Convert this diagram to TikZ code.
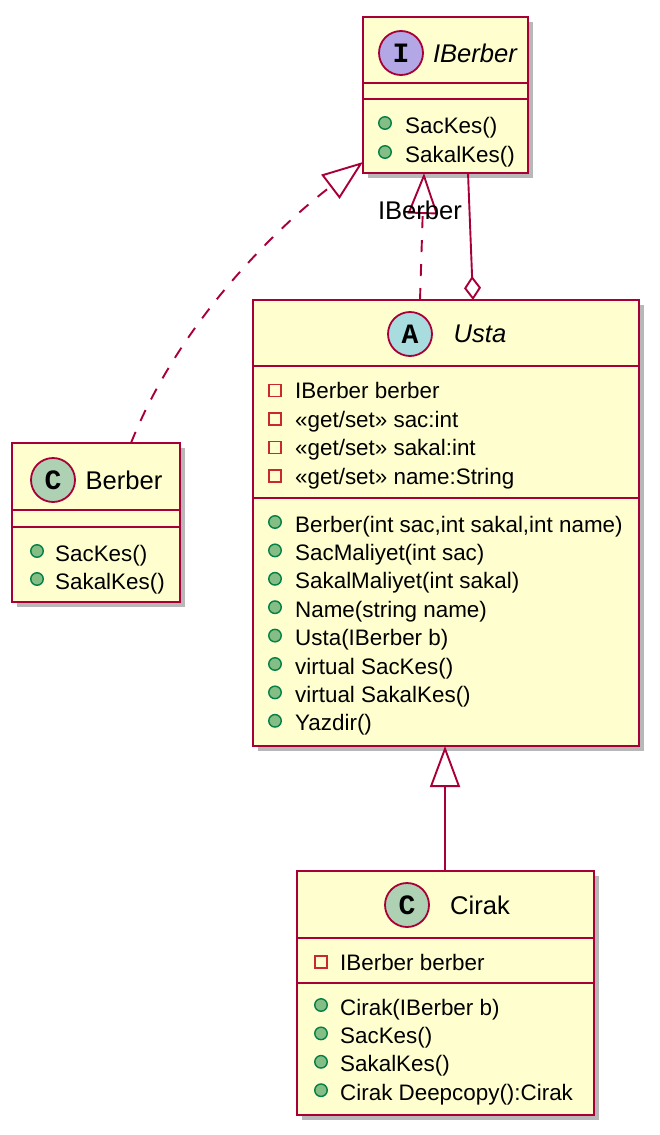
\documentclass[tikz,border=0pt]{standalone}
\usepackage{fontspec}
\setmainfont{Liberation Sans}
\newfontfamily\myMonoFam{Liberation Mono}
\usetikzlibrary{arrows.meta,shadows,calc}
\definecolor{classbg}{HTML}{FEFECE}
\definecolor{umlborder}{HTML}{A80036}
\definecolor{ifill}{HTML}{B4A7E5}
\definecolor{afill}{HTML}{A9DCDF}
\definecolor{cfill}{HTML}{ADD1B2}
\definecolor{pubfill}{HTML}{84BE84}
\definecolor{pubdraw}{HTML}{038048}
\definecolor{privdraw}{HTML}{C82930}
\newcommand\myMemFont{\fontsize{22.4}{27}\selectfont}
\newcommand\myTitleFont{\fontsize{25.6}{30}\selectfont}
\newcommand\myCircFont{\myMonoFam\bfseries\fontsize{28}{30}\selectfont}
\begin{document}
\begin{tikzpicture}[x=1pt,y=-1pt,
  umlbox/.style={rectangle, draw=umlborder, fill=classbg, line width=2.8pt, inner sep=0pt, outer sep=0pt, anchor=north west,
    drop shadow={shadow xshift=5pt, shadow yshift=-5pt, fill=black, opacity=0.28}},
  sepline/.style={draw=umlborder, line width=2.8pt},
  letter/.style={circle, draw=umlborder, line width=1.8pt, minimum size=44pt, inner sep=0pt, font=\myCircFont},
  mem/.style={anchor=base west, inner sep=0pt, font=\myMemFont},
  ttl/.style={inner sep=0pt, font=\myTitleFont},
  pubmark/.style={circle, fill=pubfill, draw=pubdraw, line width=1.4pt, minimum size=12.5pt, inner sep=0pt},
  privmark/.style={rectangle, draw=privdraw, line width=1.4pt, minimum size=12pt, inner sep=0pt},
  conn/.style={draw=umlborder, line width=1.9pt},
  dashconn/.style={conn, dash pattern=on 12pt off 12pt},
  tri/.style={-{Triangle[length=41pt, width=30pt, fill=white, line width=1.9pt]}},
  dia/.style={-{Diamond[length=24pt, width=17pt, fill=white, line width=1.9pt]}}
]
\fill[white] (0,0) rectangle (660,1135);
\useasboundingbox (0,0) rectangle (660,1135);

% ---------- IBerber ----------
\node[umlbox, minimum width=165pt, minimum height=156pt] (iberber) at (363,17) {};
\draw[sepline] (363,83) -- (528,83);
\draw[sepline] (363,99) -- (528,99);
\node[letter, fill=ifill] (iberberc) at (401,53) {I};
\node[ttl, font=\myTitleFont\itshape] (iberbert) at (475,53) {IBerber};
\node[pubmark] (ib1m) at (385,123) {};
\node[mem] (ib1) at (405,133) {SacKes()};
\node[pubmark] (ib2m) at (385,152) {};
\node[mem] (ib2) at (405,162) {SakalKes()};

% ---------- Berber ----------
\node[umlbox, minimum width=168pt, minimum height=159pt] (berber) at (12,443) {};
\draw[sepline] (12,510) -- (180,510);
\draw[sepline] (12,527) -- (180,527);
\node[letter, fill=cfill] (berberc) at (53,480) {C};
\node[ttl] (berbert) at (124,480) {Berber};
\node[pubmark] (b1m) at (37,551) {};
\node[mem] (b1) at (55,561) {SacKes()};
\node[pubmark] (b2m) at (37,579) {};
\node[mem] (b2) at (55,589) {SakalKes()};

% ---------- Usta ----------
\node[umlbox, minimum width=386pt, minimum height=446pt] (usta) at (253,300) {};
\draw[sepline] (253,366) -- (639,366);
\draw[sepline] (253,498) -- (639,498);
\node[letter, fill=afill] (ustac) at (410,334) {A};
\node[ttl, font=\myTitleFont\itshape] (ustat) at (480,334) {Usta};
\node[privmark] (ua1m) at (275,390.5) {};
\node[mem] (ua1) at (295,398.5) {IBerber berber};
\node[privmark] (ua2m) at (275,419) {};
\node[mem] (ua2) at (295,427) {«get/set» sac:int};
\node[privmark] (ua3m) at (275,447.5) {};
\node[mem] (ua3) at (295,455.5) {«get/set» sakal:int};
\node[privmark] (ua4m) at (275,476) {};
\node[mem] (ua4) at (295,484) {«get/set» name:String};
\node[pubmark] (um1m) at (275,522) {};
\node[mem] (um1) at (295,532) {Berber(int sac,int sakal,int name)};
\node[pubmark] (um2m) at (275,550.4) {};
\node[mem] (um2) at (295,560.4) {SacMaliyet(int sac)};
\node[pubmark] (um3m) at (275,578.8) {};
\node[mem] (um3) at (295,588.8) {SakalMaliyet(int sakal)};
\node[pubmark] (um4m) at (275,607.2) {};
\node[mem] (um4) at (295,617.2) {Name(string name)};
\node[pubmark] (um5m) at (275,635.6) {};
\node[mem] (um5) at (295,645.6) {Usta(IBerber b)};
\node[pubmark] (um6m) at (275,664) {};
\node[mem] (um6) at (295,674) {virtual SacKes()};
\node[pubmark] (um7m) at (275,692.4) {};
\node[mem] (um7) at (295,702.4) {virtual SakalKes()};
\node[pubmark] (um8m) at (275,720.8) {};
\node[mem] (um8) at (295,730.8) {Yazdir()};

% ---------- Cirak ----------
\node[umlbox, minimum width=297pt, minimum height=244pt] (cirak) at (297,871) {};
\draw[sepline] (297,938) -- (594,938);
\draw[sepline] (297,983) -- (594,983);
\node[letter, fill=cfill] (cirakc) at (407,905) {C};
\node[ttl] (cirakt) at (480,905) {Cirak};
\node[privmark] (ca1m) at (321,962) {};
\node[mem] (ca1) at (340,970) {IBerber berber};
\node[pubmark] (cm1m) at (321,1005) {};
\node[mem] (cm1) at (340,1015) {Cirak(IBerber b)};
\node[pubmark] (cm2m) at (321,1033.4) {};
\node[mem] (cm2) at (340,1043.4) {SacKes()};
\node[pubmark] (cm3m) at (321,1061.8) {};
\node[mem] (cm3) at (340,1071.8) {SakalKes()};
\node[pubmark] (cm4m) at (321,1090.2) {};
\node[mem] (cm4) at (340,1100.2) {Cirak Deepcopy():Cirak};

% ---------- connectors ----------
\draw[dashconn, tri] ($(berber.north west)+(119,0)$) .. controls (180,320) and (280,225) .. ($(iberber.south west)+(0,-11)$);
\draw[dashconn, tri] ($(usta.north west)+(167,0)$) -- ($(iberber.south west)+(61,0)$);
\node[inner sep=0pt, anchor=base, font=\myTitleFont] (reallabel) at (420,219) {IBerber};
\draw[conn, dia] ($(iberber.south west)+(105,0)$) -- ($(usta.north west)+(220,0)$);
\draw[conn, tri] ($(cirak.north west)+(148,0)$) -- ($(usta.south west)+(192,0)$);
\end{tikzpicture}
\end{document}
